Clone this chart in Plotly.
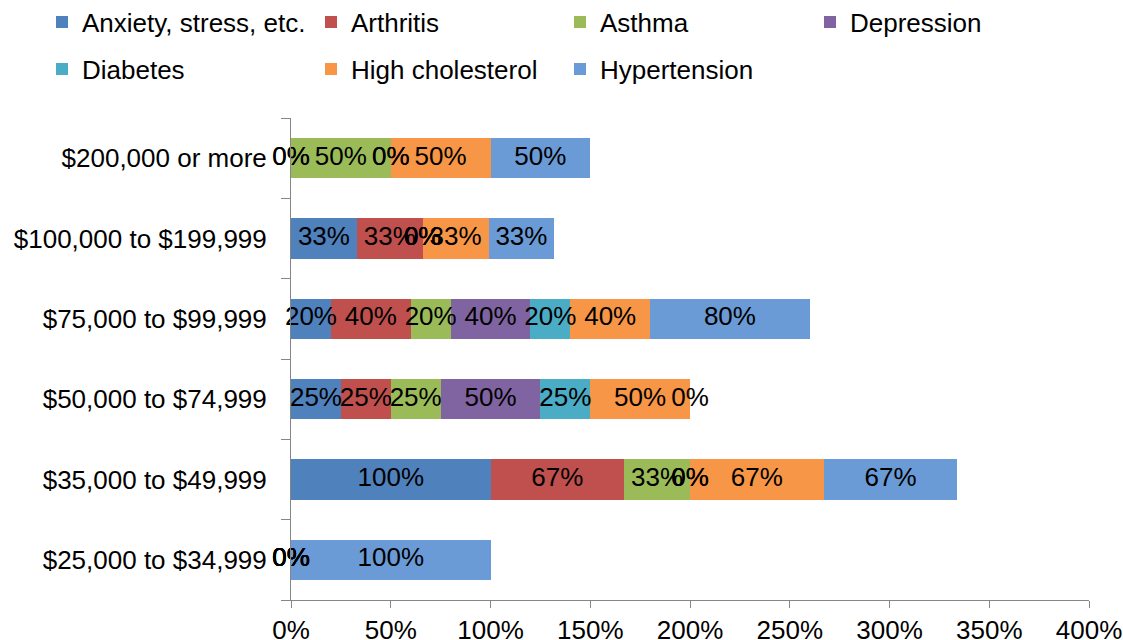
import numpy as np
import plotly.graph_objects as go

# Income brackets, listed bottom to top
categories = [
    "$25,000 to $34,999",
    "$35,000 to $49,999",
    "$50,000 to $74,999",
    "$75,000 to $99,999",
    "$100,000 to $199,999",
    "$200,000 or more",
]

# Share (%) reporting each condition, per bracket
anxiety = [0, 100, 25, 20, 33, 0]
arthritis = [0, 67, 25, 40, 33, 0]
asthma = [0, 33, 25, 20, 0, 50]
depression = [0, 0, 50, 40, 0, 0]
diabetes = [0, 0, 25, 20, 0, 0]
high_cholesterol = [0, 67, 50, 40, 33, 50]
hypertension = [100, 67, 0, 80, 33, 50]

series_names = ["Anxiety, stress, etc.", "Arthritis", "Asthma", "Depression",
                "Diabetes", "High cholesterol", "Hypertension"]
series_values = [anxiety, arthritis, asthma, depression, diabetes,
                 high_cholesterol, hypertension]

x_ticks = [0, 50, 100, 150, 200, 250, 300, 350, 400]

colors = ["#4F81BD", "#C0504D", "#9BBB59", "#8064A2", "#4BACC6", "#F79646", "#6A9BD6"]

FONT = "Liberation Sans, Arial, sans-serif"
FS = 26

# legend anchor (left edge, vertical centre) for each series, in container pixels
legend_spots = [(42, 22), (311, 22), (560, 22), (810, 22),
                (42, 69), (311, 69), (560, 69)]
W, H = 1123, 640

fig = go.Figure()

vals = np.array(series_values, dtype=float)
starts = np.vstack([np.zeros(len(categories)), np.cumsum(vals, axis=0)[:-1]])

for i, (name, v) in enumerate(zip(series_names, series_values)):
    lg = "legend" if i == 0 else f"legend{i + 1}"
    fig.add_trace(go.Bar(
        y=categories, x=v, name=name, orientation="h",
        marker=dict(color=colors[i], line=dict(width=0)),
        legend=lg, hoverinfo="x+name",
    ))

# value labels centred on each segment (zero-width segments included)
lab_x, lab_y, lab_t = [], [], []
for i, v in enumerate(series_values):
    for j, cat in enumerate(categories):
        lab_x.append(starts[i, j] + v[j] / 2)
        lab_y.append(cat)
        lab_t.append(f"{v[j]}%")
fig.add_trace(go.Scatter(
    x=lab_x, y=lab_y, text=lab_t, mode="text",
    textposition="middle center",
    textfont=dict(family=FONT, size=FS, color="#000000"),
    showlegend=False, hoverinfo="skip", cliponaxis=False,
))

layout_legends = {}
for i, (lx, ly) in enumerate(legend_spots):
    key = "legend" if i == 0 else f"legend{i + 1}"
    layout_legends[key] = dict(
        xref="container", yref="container",
        x=lx / W, y=1 - ly / H, xanchor="left", yanchor="middle",
        orientation="h", bgcolor="rgba(0,0,0,0)",
        font=dict(family=FONT, size=FS, color="#000000"),
        itemwidth=30, borderwidth=0,
    )

fig.update_layout(
    width=W, height=H,
    margin=dict(l=291, r=34, t=118, b=40, autoexpand=False),
    paper_bgcolor="white", plot_bgcolor="white",
    barmode="stack", bargap=0.5,
    font=dict(family=FONT, size=FS, color="#000000"),
    **layout_legends,
)

fig.update_xaxes(
    range=[0, 400], tickvals=x_ticks, ticktext=[f"{t}%" for t in x_ticks],
    showgrid=False, zeroline=False,
    showline=True, linecolor="#868686", linewidth=1,
    ticks="outside", ticklen=7, tickcolor="#868686",
    tickfont=dict(family=FONT, size=FS, color="#000000"),
    automargin=False,
)
fig.update_yaxes(
    type="category", categoryorder="array", categoryarray=categories,
    showgrid=False, zeroline=False,
    showline=True, linecolor="#868686", linewidth=1,
    ticks="outside", ticklen=9, tickcolor="#868686", tickson="boundaries",
    ticklabelstandoff=18,
    tickfont=dict(family=FONT, size=FS, color="#000000"),
    automargin=False,
)

fig.write_html("out.html")
